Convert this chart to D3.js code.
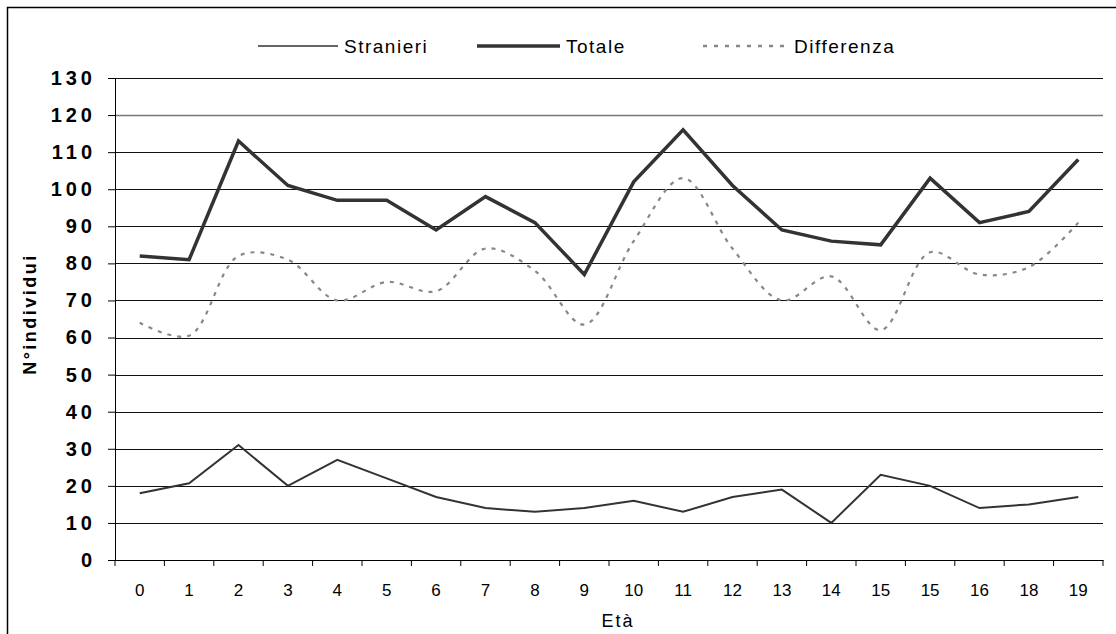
<!DOCTYPE html>
<html>
<head>
<meta charset="utf-8">
<script src="https://cdn.jsdelivr.net/npm/d3@7"></script>
<style>
  body { margin: 0; background: #fff; }
  svg { display: block; font-family: "Liberation Sans", Arial, sans-serif; }
</style>
</head>
<body>
<div id="chart"></div>
<script>
// age labels (15 appears twice in the original)
const ageLabels = ["0","1","2","3","4","5","6","7","8","9","10","11","12","13","14","15","15","16","18","19"];
const stranieri = [18, 20.7, 31, 20, 27, 22, 17, 14, 13, 14, 16, 13, 17, 19, 10, 23, 20, 14, 15, 17];
const totale    = [82, 81, 113, 101, 97, 97, 89, 98, 91, 77, 102, 116, 101, 89, 86, 85, 103, 91, 94, 108];
const differenza = [64, 60.5, 82, 81, 70, 75, 72.5, 84, 78, 63.5, 86, 103, 84, 70, 76.5, 62, 83, 77, 79, 91];
const yTicks = d3.range(0, 131, 10);

const W = 1116, H = 634;
const margin = { top: 78, right: 13, bottom: 74, left: 115 };
const innerW = W - margin.left - margin.right;
const innerH = H - margin.top - margin.bottom;

const svg = d3.select("#chart").append("svg")
    .attr("width", W)
    .attr("height", H);

// outer frame (only left/top visible)
svg.append("rect")
    .attr("x", 7.5).attr("y", 7.5)
    .attr("width", W + 20).attr("height", H + 20)
    .attr("fill", "none")
    .attr("stroke", "#000")
    .attr("stroke-width", 1.5);

const g = svg.append("g").attr("transform", `translate(${margin.left},${margin.top})`);

const x = d3.scaleBand()
    .domain(d3.range(ageLabels.length))
    .range([0, innerW]);
const y = d3.scaleLinear()
    .domain([0, 130])
    .range([innerH, 0]);
const cx = i => x(i) + x.bandwidth() / 2;

// gridlines
g.append("g")
    .selectAll("line")
    .data(yTicks.filter(d => d > 0))
    .join("line")
    .attr("x1", 0).attr("x2", innerW)
    .attr("y1", d => Math.round(y(d)) + 0.5)
    .attr("y2", d => Math.round(y(d)) + 0.5)
    .attr("stroke", d => d === 120 ? "#777" : "#111")
    .attr("stroke-width", d => d === 120 ? 1.5 : 1);

// y axis
const yAxis = g.append("g")
    .call(d3.axisLeft(y).tickValues(yTicks).tickSize(7).tickPadding(16));
yAxis.select(".domain").attr("stroke", "#000");
yAxis.selectAll(".tick line").attr("stroke", "#000");
yAxis.selectAll("text")
    .attr("fill", "#000")
    .style("font-size", "20px")
    .style("font-weight", "bold")
    .style("letter-spacing", "4px")
    .attr("dx", "4px");

// x axis
const xAxis = g.append("g")
    .attr("transform", `translate(0,${innerH})`)
    .call(d3.axisBottom(x).tickFormat(i => ageLabels[i]).tickSize(0).tickPadding(24));
xAxis.select(".domain").attr("stroke", "#000").attr("stroke-width", 1.2);
xAxis.selectAll("text").attr("fill", "#000").style("font-size", "17px");
// tick marks at band boundaries
xAxis.append("g")
    .selectAll("line")
    .data(d3.range(ageLabels.length + 1))
    .join("line")
    .attr("x1", i => i < ageLabels.length ? x(i) : innerW)
    .attr("x2", i => i < ageLabels.length ? x(i) : innerW)
    .attr("y1", 0).attr("y2", 6)
    .attr("stroke", "#000");

// axis titles
svg.append("text")
    .attr("transform", "translate(36,314) rotate(-90)")
    .attr("text-anchor", "middle")
    .style("font-size", "18px")
    .style("font-weight", "bold")
    .style("letter-spacing", "2.5px")
    .text("N°individui");
svg.append("text")
    .attr("x", 618).attr("y", 627)
    .attr("text-anchor", "middle")
    .style("font-size", "18px")
    .style("letter-spacing", "2px")
    .text("Età");

// lines
const straight = d3.line().x((d, i) => cx(i)).y(d => y(d));
const smooth = d3.line().x((d, i) => cx(i)).y(d => y(d)).curve(d3.curveCatmullRom.alpha(0.5));

g.append("path")
    .datum(differenza)
    .attr("d", smooth)
    .attr("fill", "none")
    .attr("stroke", "#888")
    .attr("stroke-width", 2.2)
    .attr("stroke-dasharray", "4,6");

g.append("path")
    .datum(stranieri)
    .attr("d", straight)
    .attr("fill", "none")
    .attr("stroke", "#333")
    .attr("stroke-width", 2);

g.append("path")
    .datum(totale)
    .attr("d", straight)
    .attr("fill", "none")
    .attr("stroke", "#333")
    .attr("stroke-width", 3.5)
    .attr("stroke-linejoin", "miter");

// legend
const legendItems = [
    { label: "Stranieri", x1: 258, x2: 338, color: "#333", width: 1.5, dash: null },
    { label: "Totale", x1: 477, x2: 560, color: "#333", width: 3.5, dash: null },
    { label: "Differenza", x1: 703, x2: 788, color: "#888", width: 2.5, dash: "4,7" }
];
const legend = svg.append("g");
legend.selectAll("line")
    .data(legendItems)
    .join("line")
    .attr("x1", d => d.x1).attr("x2", d => d.x2)
    .attr("y1", 46).attr("y2", 46)
    .attr("stroke", d => d.color)
    .attr("stroke-width", d => d.width)
    .attr("stroke-dasharray", d => d.dash);
legend.selectAll("text")
    .data(legendItems)
    .join("text")
    .attr("x", d => d.x2 + 6)
    .attr("y", 53)
    .style("font-size", "19px")
    .style("letter-spacing", "1.5px")
    .text(d => d.label);
</script>
</body>
</html>
